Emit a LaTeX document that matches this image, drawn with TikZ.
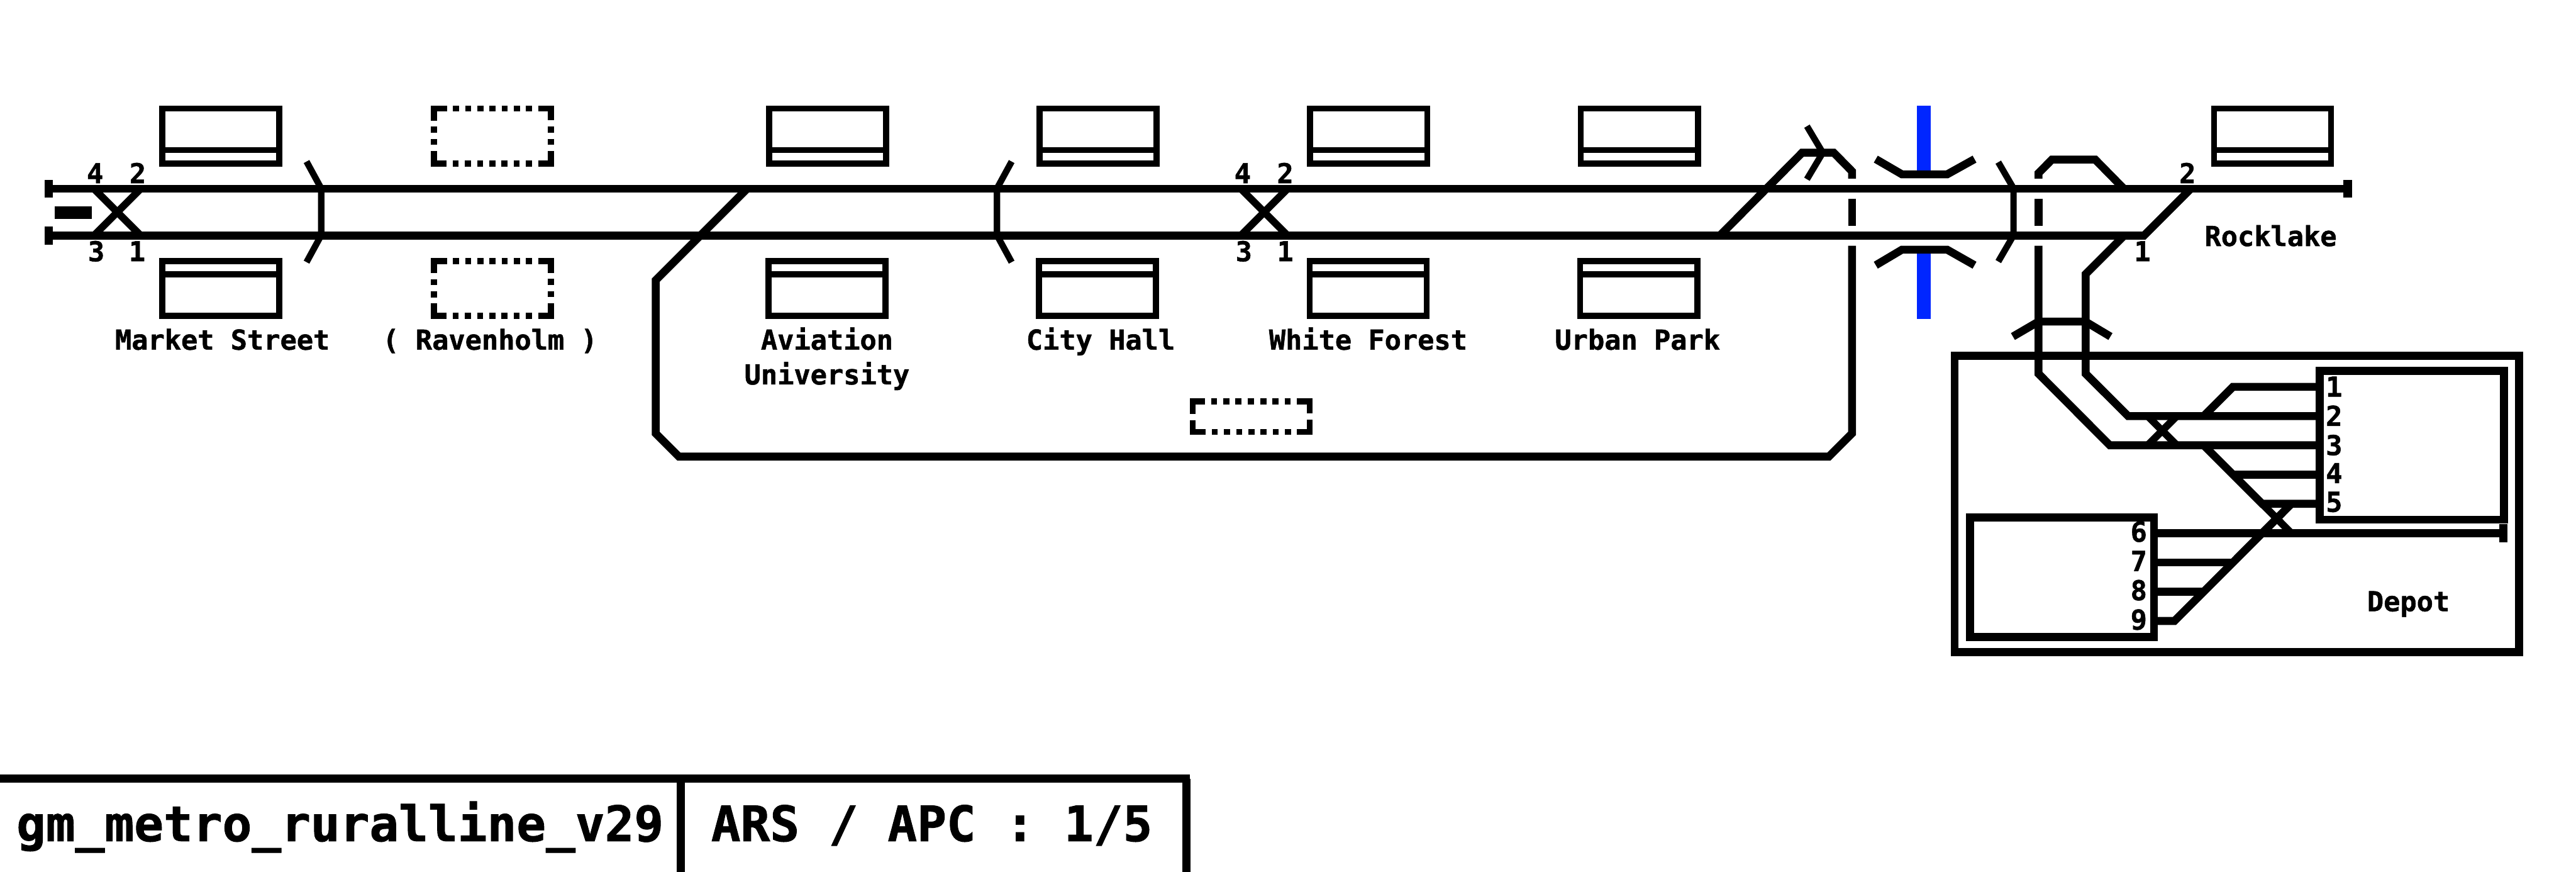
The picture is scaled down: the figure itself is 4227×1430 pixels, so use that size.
\documentclass[tikz,border=0pt]{standalone}
\usepackage{fontspec}
\setmonofont[BoldFont={DejaVu Sans Mono Bold}, BoldFeatures={FakeBold=1.2}]{DejaVu Sans Mono}

\begin{document}
\begin{tikzpicture}[x=0.01cm, y=-0.01cm,
    every node/.style={font=\ttfamily\bfseries\fontsize{12.8}{16.2}\selectfont, inner sep=0pt, outer sep=0pt},
    label/.style={anchor=base, yshift=-0.015cm},
    title/.style={anchor=base, yshift=-0.02cm, font=\ttfamily\bfseries\fontsize{22.8}{27}\selectfont},
    track/.style={line width=0.13cm},
    thin track/.style={line width=0.12cm},
    marker/.style={line width=0.105cm},
    platform/.style={draw, line width=0.1cm, minimum width=1.92cm, minimum height=0.9cm},
    platform north/.style={platform, path picture={\draw[line width=0.1cm] ([yshift=0.22cm]path picture bounding box.south west) -- ([yshift=0.22cm]path picture bounding box.south east);}},
    platform south/.style={platform, path picture={\draw[line width=0.1cm] ([yshift=-0.22cm]path picture bounding box.north west) -- ([yshift=-0.22cm]path picture bounding box.north east);}},
    planned/.style={line width=0.1cm, dash pattern=on 0.05cm off 0.1cm on 0.1cm off 0.1cm on 0.1cm off 0.1cm on 0.1cm off 0.1cm on 0.405cm off 0.1cm on 0.1cm off 0.1cm on 0.1cm off 0.1cm on 0.415cm off 0.1cm on 0.1cm off 0.1cm on 0.1cm off 0.1cm on 0.1cm off 0.1cm on 0.1cm off 0.1cm on 0.1cm off 0.1cm on 0.1cm off 0.1cm on 0.1cm off 0.1cm on 0.41cm off 0.1cm on 0.1cm off 0.1cm on 0.1cm off 0.1cm on 0.41cm off 0.1cm on 0.1cm off 0.1cm on 0.1cm off 0.1cm on 0.1cm off 0.1cm on 0.05cm},
    planned short/.style={line width=0.1cm, dash pattern=on 0.05cm off 0.1cm on 0.1cm off 0.1cm on 0.1cm off 0.1cm on 0.1cm off 0.1cm on 0.405cm off 0.105cm on 0.405cm off 0.1cm on 0.1cm off 0.1cm on 0.1cm off 0.1cm on 0.1cm off 0.1cm on 0.1cm off 0.1cm on 0.1cm off 0.1cm on 0.1cm off 0.1cm on 0.1cm off 0.1cm on 0.405cm off 0.105cm on 0.405cm off 0.1cm on 0.1cm off 0.1cm on 0.1cm off 0.1cm on 0.1cm off 0.1cm on 0.05cm}]
    \useasboundingbox (0,0) rectangle (4227,1430);

    % blue section
    \coordinate (blueA) at (3156.5,173);
    \coordinate (blueB) at (3156.5,286);
    \coordinate (blueC) at (3156.5,409);
    \coordinate (blueD) at (3156.5,523);
    \draw[line width=0.23cm, color={rgb,255:red,0;green,38;blue,255}] (blueA) -- (blueB);
    \draw[line width=0.23cm, color={rgb,255:red,0;green,38;blue,255}] (blueC) -- (blueD);

    % platforms
    \node[platform north] (marketN) at (362,223) {};
    \node[platform south] (marketS) at (362,473) {};
    \node[platform north] (aviationN) at (1358,223) {};
    \node[platform south] (aviationS) at (1357,473) {};
    \node[platform north] (cityN) at (1802,223) {};
    \node[platform south] (cityS) at (1801,473) {};
    \node[platform north] (forestN) at (2246,223) {};
    \node[platform south] (forestS) at (2245,473) {};
    \node[platform north] (urbanN) at (2690,223) {};
    \node[platform south] (urbanS) at (2689,473) {};
    \node[platform north] (rockN) at (3729,223) {};

    % planned platforms
    \draw[planned] (808,178) -- (904,178) -- (904,268) -- (712,268) -- (712,178) -- cycle;
    \draw[planned] (808,428) -- (904,428) -- (904,518) -- (712,518) -- (712,428) -- cycle;
    \draw[planned short] (2053,658.5) -- (2149,658.5) -- (2149,708.5) -- (1957,708.5) -- (1957,658.5) -- cycle;

    % depot boxes
    \node[draw, line width=0.13cm, minimum width=9.255cm, minimum height=4.86cm] (depot) at (3670.25,826.5) {};
    \node[draw, line width=0.13cm, minimum width=3.02cm, minimum height=2.44cm] (shedA) at (3957.5,730.5) {};
    \node[draw, line width=0.13cm, minimum width=3.02cm, minimum height=1.955cm] (shedB) at (3383.5,946.75) {};

    % main line points
    \coordinate (topW) at (80,309.5);
    \coordinate (topE) at (3852.5,309.5);
    \coordinate (botW) at (80,386.5);
    \coordinate (botE) at (3518,386.5);
    \coordinate (exitN) at (3595,309.5);
    \node[fill=black, minimum width=0.14cm, minimum height=0.29cm] (stopTW) at (topW) {};
    \node[fill=black, minimum width=0.14cm, minimum height=0.29cm] (stopBW) at (botW) {};
    \node[fill=black, minimum width=0.14cm, minimum height=0.29cm] (stopTE) at (topE) {};
    \node[fill=black, minimum width=0.61cm, minimum height=0.21cm] (block) at (120.5,348.5) {};

    % main line
    \draw[track] (stopTW.center) -- (stopTE.center);
    \draw[track] (stopBW.center) -- (botE) -- (exitN);

    % crossings
    \draw[thin track] (154,309.5) -- (231,386.5);
    \draw[thin track] (231,309.5) -- (154,386.5);
    \draw[thin track] (2036,309.5) -- (2113,386.5);
    \draw[thin track] (2113,309.5) -- (2036,386.5);

    % loop
    \draw[track] (1226,309.5) -- (1076,459.5) -- (1076,711) -- (1114,749) -- (3001,749) -- (3039,711) -- (3039,403);
    \draw[track] (3039,326) -- (3039,370);
    \draw[track] (2822,386.5) -- (2957,250.5) -- (3009,250.5) -- (3039,281) -- (3039,293);

    % depot approach
    \draw[track] (3485,309.5) -- (3438,261.7) -- (3367,261.7) -- (3345,284) -- (3345,293);
    \draw[track] (3345,326) -- (3345,370);
    \draw[track] (3345,403) -- (3345,613) -- (3462,730.4) -- (3806,730.4);
    \draw[track] (3485.5,386.5) -- (3422.4,449.5) -- (3422.4,613) -- (3492,682.5) -- (3806,682.5);

    % depot fan
    \draw[track] (3806,634.5) -- (3664,634.5) -- (3616,682.5);
    \draw[thin track] (3524,682.5) -- (3572,730.4);
    \draw[thin track] (3572,682.5) -- (3524,730.4);
    \draw[track] (3616,730.4) -- (3712,826.4) -- (3806,826.4);
    \draw[track] (3664,778.6) -- (3806,778.6);
    \draw[thin track] (3712,826.4) -- (3760,874.7);
    \draw[track] (3760,826.4) -- (3568,1018.6) -- (3534,1018.6);
    \draw[track] (3534,874.7) -- (4108,874.7);
    \node[fill=black, minimum width=0.13cm, minimum height=0.3cm] (stopD) at (4108,874.7) {};
    \draw[track] (3534,922.5) -- (3664,922.5);
    \draw[track] (3534,970.7) -- (3616,970.7);

    % section markers
    \draw[marker] (503,265) -- (527,309) -- (527,386) -- (503,430);
    \draw[marker] (1660,265) -- (1636,309) -- (1636,386) -- (1660,430);
    \draw[marker] (2965,207) -- (2991,250.5) -- (2965,294);
    \draw[marker] (3279,266) -- (3304,309) -- (3304,386) -- (3279,429);
    \draw[track] (3078,261) -- (3121,286) -- (3195,286) -- (3240,261);
    \draw[track] (3078,435) -- (3121,409.5) -- (3195,409.5) -- (3240,435);
    \draw[track] (3303,552) -- (3345,527.5) -- (3422,527.5) -- (3463,552);

    % station names
    \node[label] (marketL) at (365,572) {Market Street};
    \node[label] (ravenL) at (804,572) {( Ravenholm )};
    \node[label] (aviationL) at (1357,572) {Aviation};
    \node[label] (universityL) at (1357,629) {University};
    \node[label] (cityL) at (1806,572) {City Hall};
    \node[label] (forestL) at (2245,572) {White Forest};
    \node[label] (urbanL) at (2687,572) {Urban Park};
    \node[label] (rockL) at (3726,402) {Rocklake};
    \node[label] (depotL) at (3952,1001) {Depot};

    % track numbers
    \node[label] (m4) at (156,299) {4};
    \node[label] (m2) at (226,299) {2};
    \node[label] (m3) at (158,427) {3};
    \node[label] (m1) at (225,427) {1};
    \node[label] (f4) at (2039,299) {4};
    \node[label] (f2) at (2109,299) {2};
    \node[label] (f3) at (2041,427) {3};
    \node[label] (f1) at (2109,427) {1};
    \node[label] (r2) at (3589.5,299) {2};
    \node[label] (r1) at (3515.5,427) {1};
    \node[label] (d1) at (3830,649) {1};
    \node[label] (d2) at (3830,697) {2};
    \node[label] (d3) at (3830,745) {3};
    \node[label] (d4) at (3830,791) {4};
    \node[label] (d5) at (3830,838) {5};
    \node[label] (d6) at (3509.5,887) {6};
    \node[label] (d7) at (3509.5,935) {7};
    \node[label] (d8) at (3509.5,983) {8};
    \node[label] (d9) at (3509.5,1031) {9};

    % title table
    \coordinate (tableW) at (0,1277.3);
    \coordinate (tableE) at (1953,1277.3);
    \coordinate (splitT) at (1117,1277.3);
    \coordinate (splitB) at (1117,1430);
    \coordinate (edgeT) at (1947,1277.3);
    \coordinate (edgeB) at (1947,1430);
    \draw[track] (tableW) -- (tableE);
    \draw[track] (splitT) -- (splitB);
    \draw[track] (edgeT) -- (edgeB);
    \node[title] (mapname) at (558,1377.7) {gm\_metro\_ruralline\_v29};
    \node[title] (ars) at (1529,1377.7) {ARS / APC : 1/5};
\end{tikzpicture}
\end{document}
